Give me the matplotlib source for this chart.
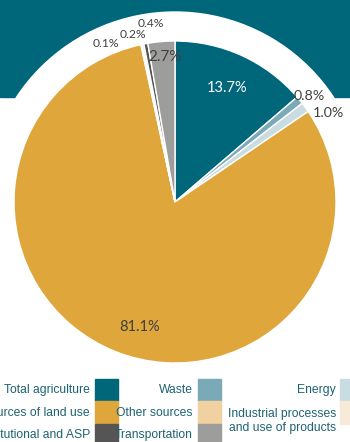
import matplotlib.pyplot as plt
from matplotlib.patches import Rectangle, Circle
import numpy as np

categories = ['Total agriculture', 'Waste', 'Energy', 'Other sources of land use',
              'Other sources', 'Industrial processes\nand use of products',
              'Institutional and ASP', 'Transportation']
shares = [13.7, 0.8, 1.0, 81.1, 0.1, 0.2, 0.4, 2.7]
colors = ['#00667a', '#7aaab8', '#c8dce2', '#dfa63c',
          '#f0d19f', '#f8ead8', '#555555', '#9d9d9c']

teal = '#00667a'
label_dark = '#404040'
legend_text = '#1d6373'

# label placement tweaks: radial factor, angle shift (deg), font size, colour
label_style = [
    (0.78, 0, 10.5, 'white'),
    (1.06, -1, 10.3, label_dark),
    (1.10, -6, 10.3, label_dark),
    (0.81, 6, 10.5, label_dark),
    (1.075, 11.4, 8.7, label_dark),
    (1.07, 2.5, 8.7, label_dark),
    (1.12, -2.7, 8.7, label_dark),
    (0.90, -1, 11, label_dark),
]

fig = plt.figure(figsize=(3.5, 4.42), dpi=100)
ax = fig.add_axes([0, 0, 1, 1])

cx, cy, R = 175, 240, 161

ax.add_patch(Rectangle((0, 345), 350, 97, color=teal, zorder=0))
ax.add_patch(Circle((cx, cy), 190, color='white', zorder=1))

wedges, _ = ax.pie(shares, colors=colors, startangle=90, counterclock=False,
                   center=(cx, cy), radius=R,
                   wedgeprops=dict(edgecolor='white', linewidth=1))
for w in wedges:
    w.set_zorder(2)

for w, val, (rf, dang, fs, col) in zip(wedges, shares, label_style):
    theta = np.deg2rad((w.theta1 + w.theta2) / 2 + dang)
    ax.text(cx + rf * R * np.cos(theta), cy + rf * R * np.sin(theta),
            f'{val:.1f}%', ha='center', va='center', fontsize=fs, color=col,
            family=['Lato', 'DejaVu Sans'], zorder=3)

# legend, 3 columns, row-major, text to the left of the swatch
col_text_x = [90, 193, 336]
col_box_x = [95, 198, 340]
row_y = [52, 29.5, 7]
box_w, box_h = 23, 22.5
for i, (name, c) in enumerate(zip(categories, colors)):
    r, k = divmod(i, 3)
    ax.add_patch(Rectangle((col_box_x[k], row_y[r] - box_h / 2), box_w, box_h,
                           color=c, zorder=2))
    ty = row_y[r]
    if '\n' in name:
        ty = row_y[r] - 8.5
    ax.text(col_text_x[k], ty, name, ha='right', va='center', fontsize=8.7,
            color=legend_text, linespacing=1.25,
            family=['Liberation Sans', 'DejaVu Sans'], zorder=3)

ax.set_xlim(0, 350)
ax.set_ylim(0, 442)
ax.set_aspect('equal')
ax.axis('off')

fig.savefig('out.png', dpi=100)
